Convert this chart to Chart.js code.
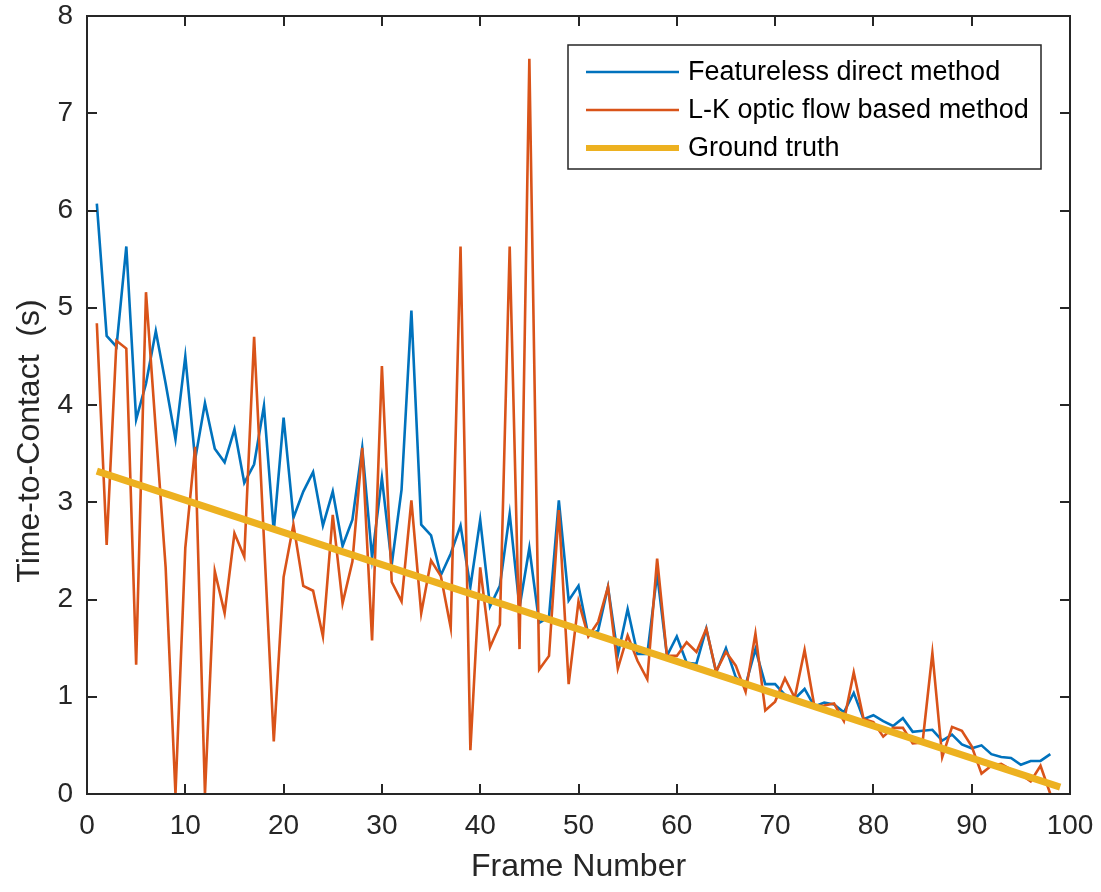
<!DOCTYPE html>
<html>
<head>
<meta charset="utf-8">
<script src="https://cdn.jsdelivr.net/npm/chart.js@4.4.1/dist/chart.umd.min.js"></script>
<style>
  html, body { margin: 0; padding: 0; background: #fff; overflow: hidden; }
  canvas { display: block; }
</style>
</head>
<body>
<canvas id="ttcChart" width="1101" height="892"></canvas>
<script>
// frame numbers shared by both measured series
const frameNumbers = [
  1, 2, 3, 4, 5, 6, 7, 8, 9, 10, 11, 12, 13, 14, 15, 16, 17, 18, 19, 20,
  21, 22, 23, 24, 25, 26, 27, 28, 29, 30, 31, 32, 33, 34, 35, 36, 37, 38, 39, 40,
  41, 42, 43, 44, 45, 46, 47, 48, 49, 50, 51, 52, 53, 54, 55, 56, 57, 58, 59, 60,
  61, 62, 63, 64, 65, 66, 67, 68, 69, 70, 71, 72, 73, 74, 75, 76, 77, 78, 79, 80,
  81, 82, 83, 84, 85, 86, 87, 88, 89, 90, 91, 92, 93, 94, 95, 96, 97, 98
];

// Featureless direct method (s)
const directTTC = [
  6.07, 4.71, 4.60, 5.63, 3.85, 4.22, 4.76, 4.22, 3.65, 4.50,
  3.44, 4.02, 3.55, 3.41, 3.75, 3.20, 3.39, 3.99, 2.70, 3.87,
  2.84, 3.11, 3.31, 2.76, 3.11, 2.55, 2.82, 3.56, 2.43, 3.25,
  2.36, 3.13, 4.97, 2.77, 2.66, 2.25, 2.47, 2.76, 2.13, 2.82,
  1.93, 2.14, 2.88, 1.92, 2.53, 1.76, 1.82, 3.02, 1.99, 2.14,
  1.63, 1.68, 2.13, 1.43, 1.90, 1.44, 1.44, 2.26, 1.42, 1.62,
  1.35, 1.34, 1.70, 1.25, 1.50, 1.20, 1.12, 1.49, 1.13, 1.13,
  1.02, 0.98, 1.08, 0.90, 0.94, 0.92, 0.84, 1.04, 0.77, 0.81,
  0.75, 0.70, 0.78, 0.64, 0.65, 0.66, 0.55, 0.61, 0.51, 0.47,
  0.50, 0.41, 0.38, 0.37, 0.30, 0.34, 0.34, 0.41
];

// L-K optic flow based method (s)
const opticFlowTTC = [
  4.84, 2.56, 4.66, 4.58, 1.33, 5.16, 3.74, 2.33, 0.00, 2.53,
  3.57, 0.00, 2.29, 1.86, 2.68, 2.44, 4.70, 2.62, 0.54, 2.23,
  2.77, 2.14, 2.09, 1.62, 2.87, 1.96, 2.39, 3.56, 1.58, 4.40,
  2.18, 1.98, 3.02, 1.86, 2.40, 2.24, 1.71, 5.63, 0.45, 2.33,
  1.51, 1.74, 5.63, 1.49, 7.56, 1.28, 1.42, 2.92, 1.13, 1.98,
  1.62, 1.77, 2.13, 1.29, 1.63, 1.37, 1.18, 2.42, 1.42, 1.42,
  1.56, 1.46, 1.70, 1.26, 1.46, 1.32, 1.05, 1.65, 0.86, 0.95,
  1.19, 0.99, 1.48, 0.90, 0.91, 0.93, 0.75, 1.25, 0.77, 0.74,
  0.59, 0.68, 0.68, 0.52, 0.53, 1.45, 0.38, 0.69, 0.65, 0.49,
  0.21, 0.29, 0.31, 0.25, 0.20, 0.13, 0.29, 0.00
];

// ground truth is a straight line, just its two ends
const truthFrames = [1, 99];
const truthTTC = [3.32, 0.07];

const seriesLabels = ['Featureless direct method', 'L-K optic flow based method', 'Ground truth'];
const xTicks = [0, 10, 20, 30, 40, 50, 60, 70, 80, 90, 100];
const yTicks = [0, 1, 2, 3, 4, 5, 6, 7, 8];

const FONT = '"Liberation Sans", Arial, Helvetica, sans-serif';
const AXIS_COLOR = '#262626';

function toPoints(xs, ys) {
    return xs.map((x, i) => ({ x: x, y: ys[i] }));
}

// box, inward ticks, axis titles and the legend, MATLAB style
const matlabAxes = {
    id: 'matlabAxes',
    afterDraw(chart) {
        const ctx = chart.ctx;
        const area = chart.chartArea;
        const xs = chart.scales.x;
        const ys = chart.scales.y;
        const tickLen = 10;

        ctx.save();
        ctx.strokeStyle = AXIS_COLOR;
        ctx.lineWidth = 2;
        ctx.lineCap = 'butt';
        ctx.beginPath();
        xTicks.forEach(v => {
            const px = Math.round(xs.getPixelForValue(v));
            ctx.moveTo(px, area.bottom);
            ctx.lineTo(px, area.bottom - tickLen);
            ctx.moveTo(px, area.top);
            ctx.lineTo(px, area.top + tickLen);
        });
        yTicks.forEach(v => {
            const py = Math.round(ys.getPixelForValue(v));
            ctx.moveTo(area.left, py);
            ctx.lineTo(area.left + tickLen, py);
            ctx.moveTo(area.right, py);
            ctx.lineTo(area.right - tickLen, py);
        });
        ctx.stroke();
        ctx.strokeRect(area.left, area.top, area.right - area.left, area.bottom - area.top);

        // axis titles
        ctx.fillStyle = AXIS_COLOR;
        ctx.font = '32px ' + FONT;
        ctx.textAlign = 'center';
        ctx.textBaseline = 'middle';
        ctx.fillText('Frame Number', (area.left + area.right) / 2, 867);
        ctx.save();
        ctx.translate(30, 441);
        ctx.rotate(-Math.PI / 2);
        ctx.fillText('Time-to-Contact  (s)', 0, 0);
        ctx.restore();

        // legend box
        const lx = 568, ly = 45, lw = 473, lh = 124;
        ctx.fillStyle = '#ffffff';
        ctx.fillRect(lx, ly, lw, lh);
        ctx.strokeStyle = AXIS_COLOR;
        ctx.lineWidth = 1.5;
        ctx.strokeRect(lx, ly, lw, lh);

        const rows = [72, 110, 148];
        ctx.font = '27px ' + FONT;
        ctx.textAlign = 'left';
        ctx.textBaseline = 'middle';
        chart.data.datasets.forEach((ds, i) => {
            const y = rows[i];
            ctx.strokeStyle = ds.borderColor;
            ctx.lineWidth = i === 2 ? 6 : 2.5;
            ctx.beginPath();
            ctx.moveTo(586, y);
            ctx.lineTo(679, y);
            ctx.stroke();
            ctx.fillStyle = '#000000';
            ctx.fillText(ds.label, 688, y + 1);
        });
        ctx.restore();
    }
};

const ctx = document.getElementById('ttcChart').getContext('2d');
const ttcChart = new Chart(ctx, {
    type: 'line',
    data: {
        datasets: [
            {
                label: seriesLabels[0],
                data: toPoints(frameNumbers, directTTC),
                borderColor: '#0072BD',
                borderWidth: 2.6,
                pointRadius: 0,
                tension: 0,
                order: 2
            },
            {
                label: seriesLabels[1],
                data: toPoints(frameNumbers, opticFlowTTC),
                borderColor: '#D95319',
                borderWidth: 2.6,
                pointRadius: 0,
                tension: 0,
                order: 1
            },
            {
                label: seriesLabels[2],
                data: toPoints(truthFrames, truthTTC),
                borderColor: '#EDB120',
                borderWidth: 7,
                pointRadius: 0,
                tension: 0,
                order: 0
            }
        ]
    },
    options: {
        responsive: false,
        animation: false,
        devicePixelRatio: 1,
        layout: {
            padding: { top: 16, right: 31, bottom: 0, left: 0 }
        },
        plugins: {
            legend: { display: false },
            tooltip: { enabled: false }
        },
        scales: {
            x: {
                type: 'linear',
                min: 0,
                max: 100,
                afterFit: function(scale) {
                    scale.height = 98;
                    scale.paddingLeft = 0;
                    scale.paddingRight = 0;
                },
                afterBuildTicks: function(scale) { scale.ticks = xTicks.map(v => ({ value: v })); },
                grid: { display: false, drawTicks: false },
                border: { display: false },
                ticks: {
                    padding: 15,
                    color: AXIS_COLOR,
                    font: { family: FONT, size: 28 },
                    maxRotation: 0
                }
            },
            y: {
                type: 'linear',
                min: 0,
                max: 8,
                afterFit: function(scale) {
                    scale.width = 87;
                    scale.paddingTop = 0;
                    scale.paddingBottom = 0;
                },
                afterBuildTicks: function(scale) { scale.ticks = yTicks.map(v => ({ value: v })); },
                grid: { display: false, drawTicks: false },
                border: { display: false },
                ticks: {
                    padding: 14,
                    color: AXIS_COLOR,
                    font: { family: FONT, size: 28 }
                }
            }
        }
    },
    plugins: [matlabAxes]
});
</script>
</body>
</html>
